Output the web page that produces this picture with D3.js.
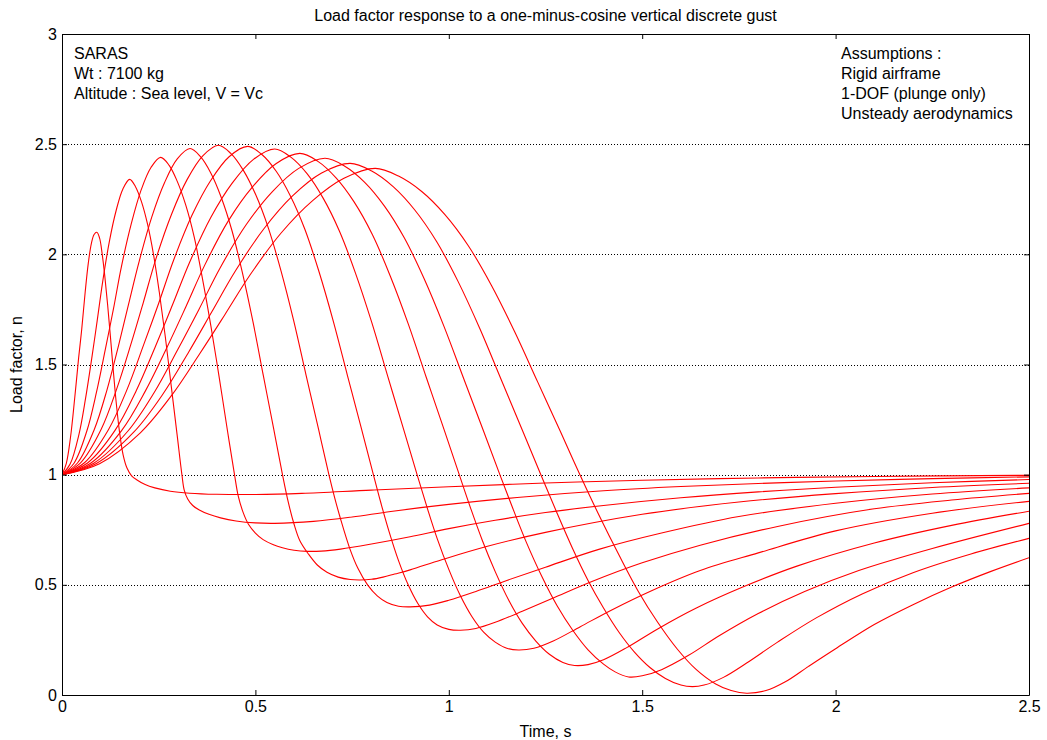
<!DOCTYPE html>
<html>
<head>
<meta charset="utf-8">
<script src="https://cdn.jsdelivr.net/npm/d3@7"></script>
<style>
  body { margin: 0; background: #fff; }
  svg text { font-family: "Liberation Sans", Arial, Helvetica, sans-serif; fill: #000; }
</style>
</head>
<body>
<svg id="chart" width="1047" height="740"></svg>
<script>
// Axis ticks and dotted grid levels
const xTicks = [0, 0.5, 1, 1.5, 2, 2.5];
const yTicks = [0, 0.5, 1, 1.5, 2, 2.5, 3];
const gridLevels = [0.5, 1, 1.5, 2, 2.5];

// Annotation blocks
const caseNotes = ["SARAS", "Wt : 7100 kg", "Altitude : Sea level, V = Vc"];
const assumptionNotes = ["Assumptions :", "Rigid airframe", "1-DOF (plunge only)", "Unsteady aerodynamics"];

// Load factor n versus time t [s], one series per gust length (shortest first)
const response1 = [[0,1],[0.011,1.05],[0.022,1.17],[0.033,1.35],[0.043,1.53],[0.051,1.66],[0.06,1.83],[0.068,1.96],[0.076,2.05],[0.083,2.09],[0.09,2.1],[0.097,2.075],[0.104,2.0],[0.111,1.895],[0.118,1.77],[0.125,1.63],[0.132,1.485],[0.14,1.33],[0.149,1.19],[0.158,1.09],[0.168,1.03],[0.18,0.995],[0.195,0.975],[0.215,0.955],[0.24,0.94],[0.28,0.925],[0.33,0.916],[0.4,0.911],[0.5,0.91],[0.62,0.915],[0.8,0.93],[1.0,0.945],[1.25,0.962],[1.5,0.975],[1.8,0.985],[2.1,0.992],[2.5,0.997]];
const response2 = [[0,1],[0.021,1.048],[0.044,1.184],[0.061,1.347],[0.077,1.529],[0.091,1.699],[0.105,1.874],[0.1225,2.059],[0.14,2.199],[0.1575,2.297],[0.175,2.34],[0.19,2.307],[0.2056,2.238],[0.221,2.138],[0.2363,2.002],[0.2515,1.829],[0.267,1.627],[0.2822,1.405],[0.2974,1.184],[0.31,1.0],[0.316,0.93],[0.325,0.89],[0.338,0.86],[0.355,0.84],[0.38,0.82],[0.41,0.804],[0.45,0.79],[0.5,0.781],[0.55,0.779],[0.65,0.788],[0.75,0.808],[0.85,0.833],[1.0,0.865],[1.2,0.9],[1.4,0.927],[1.6,0.946],[1.8,0.96],[2.0,0.971],[2.25,0.982],[2.5,0.99]];
const response3 = [[0,1],[0.031,1.052],[0.064,1.197],[0.089,1.373],[0.112,1.569],[0.133,1.752],[0.153,1.939],[0.179,2.138],[0.204,2.289],[0.23,2.394],[0.255,2.44],[0.277,2.404],[0.298,2.331],[0.32,2.223],[0.342,2.077],[0.363,1.891],[0.385,1.674],[0.407,1.435],[0.428,1.197],[0.446,1.0],[0.456,0.9],[0.468,0.83],[0.482,0.775],[0.5,0.735],[0.52,0.705],[0.545,0.683],[0.57,0.668],[0.6,0.657],[0.635,0.652],[0.67,0.653],[0.72,0.662],[0.8,0.685],[0.9,0.718],[1.0,0.755],[1.12,0.793],[1.25,0.828],[1.4,0.86],[1.6,0.895],[1.8,0.922],[2.0,0.943],[2.25,0.963],[2.5,0.978]];
const response4 = [[0,1],[0.04,1.053],[0.083,1.203],[0.116,1.383],[0.146,1.585],[0.172,1.773],[0.199,1.965],[0.232,2.169],[0.265,2.325],[0.298,2.433],[0.331,2.48],[0.358,2.443],[0.385,2.368],[0.412,2.257],[0.4395,2.107],[0.4665,1.916],[0.4938,1.693],[0.5208,1.447],[0.5478,1.203],[0.57,1.0],[0.585,0.875],[0.6,0.775],[0.615,0.7],[0.637,0.64],[0.66,0.59],[0.685,0.557],[0.714,0.535],[0.745,0.524],[0.77,0.522],[0.8,0.525],[0.83,0.535],[0.86,0.549],[0.9,0.568],[0.98,0.613],[1.1,0.675],[1.25,0.738],[1.5,0.82],[1.75,0.876],[2.0,0.914],[2.25,0.942],[2.5,0.961]];
const response5 = [[0,1],[0.048,1.054],[0.101,1.205],[0.141,1.387],[0.178,1.591],[0.21,1.78],[0.242,1.975],[0.283,2.181],[0.323,2.338],[0.364,2.447],[0.404,2.495],[0.4363,2.458],[0.4689,2.381],[0.5012,2.269],[0.5338,2.118],[0.5662,1.925],[0.5988,1.7],[0.6311,1.451],[0.6634,1.205],[0.69,1.0],[0.705,0.895],[0.72,0.8],[0.745,0.66],[0.765,0.575],[0.79,0.5],[0.815,0.45],[0.84,0.42],[0.87,0.403],[0.9,0.4],[0.95,0.408],[1.0,0.43],[1.07,0.47],[1.15,0.52],[1.25,0.58],[1.39,0.662],[1.55,0.735],[1.75,0.81],[2.0,0.87],[2.25,0.912],[2.5,0.94]];
const response6 = [[0,1],[0.058,1.054],[0.12,1.204],[0.168,1.386],[0.211,1.589],[0.25,1.778],[0.288,1.971],[0.336,2.177],[0.384,2.334],[0.432,2.443],[0.48,2.49],[0.5167,2.453],[0.5538,2.377],[0.5905,2.265],[0.6276,2.115],[0.6643,1.922],[0.7013,1.697],[0.738,1.45],[0.7748,1.204],[0.805,1.0],[0.825,0.868],[0.845,0.745],[0.87,0.61],[0.895,0.5],[0.92,0.415],[0.945,0.355],[0.97,0.318],[1.0,0.298],[1.03,0.294],[1.07,0.302],[1.12,0.33],[1.19,0.38],[1.27,0.44],[1.37,0.515],[1.5,0.6],[1.65,0.68],[1.85,0.765],[2.1,0.845],[2.3,0.885],[2.5,0.915]];
const response7 = [[0,1],[0.066,1.053],[0.1375,1.202],[0.1925,1.383],[0.242,1.584],[0.286,1.772],[0.33,1.964],[0.385,2.168],[0.44,2.323],[0.495,2.431],[0.55,2.478],[0.5916,2.441],[0.6335,2.366],[0.6751,2.255],[0.7171,2.106],[0.7587,1.915],[0.8006,1.692],[0.8422,1.446],[0.8838,1.202],[0.918,1.0],[0.945,0.845],[0.97,0.71],[1.0,0.57],[1.03,0.45],[1.06,0.355],[1.09,0.285],[1.12,0.24],[1.15,0.212],[1.18,0.204],[1.22,0.212],[1.27,0.245],[1.34,0.31],[1.42,0.385],[1.52,0.47],[1.65,0.565],[1.8,0.645],[2.0,0.745],[2.25,0.825],[2.5,0.879]];
const response8 = [[0,1],[0.074,1.052],[0.154,1.2],[0.215,1.378],[0.271,1.576],[0.32,1.761],[0.369,1.951],[0.43,2.152],[0.492,2.305],[0.553,2.411],[0.615,2.458],[0.6616,2.422],[0.7085,2.347],[0.7551,2.238],[0.802,2.091],[0.8486,1.902],[0.8956,1.682],[0.9421,1.44],[0.9887,1.2],[1.027,1.0],[1.057,0.845],[1.087,0.7],[1.12,0.56],[1.155,0.43],[1.19,0.325],[1.225,0.245],[1.26,0.185],[1.295,0.148],[1.325,0.134],[1.36,0.138],[1.4,0.16],[1.46,0.215],[1.54,0.3],[1.64,0.395],[1.76,0.49],[1.9,0.585],[2.1,0.69],[2.3,0.77],[2.5,0.834]];
const response9 = [[0,1],[0.082,1.052],[0.17,1.197],[0.238,1.372],[0.299,1.567],[0.354,1.75],[0.408,1.936],[0.476,2.134],[0.544,2.285],[0.612,2.39],[0.68,2.436],[0.7311,2.4],[0.7826,2.327],[0.8337,2.219],[0.8852,2.074],[0.9363,1.889],[0.9878,1.672],[1.0389,1.434],[1.09,1.197],[1.132,1.0],[1.167,0.84],[1.2,0.695],[1.24,0.54],[1.28,0.405],[1.32,0.295],[1.36,0.205],[1.4,0.14],[1.43,0.105],[1.465,0.082],[1.5,0.087],[1.55,0.115],[1.62,0.18],[1.7,0.27],[1.8,0.37],[1.92,0.47],[2.06,0.565],[2.25,0.665],[2.5,0.779]];
const response10 = [[0,1],[0.089,1.051],[0.186,1.194],[0.261,1.366],[0.328,1.558],[0.387,1.738],[0.447,1.921],[0.522,2.116],[0.596,2.265],[0.67,2.368],[0.745,2.413],[0.8007,2.378],[0.8569,2.306],[0.9126,2.2],[0.9688,2.057],[1.0245,1.875],[1.0807,1.661],[1.1364,1.427],[1.1921,1.194],[1.238,1.0],[1.28,0.825],[1.32,0.665],[1.36,0.52],[1.4,0.395],[1.44,0.285],[1.48,0.195],[1.52,0.125],[1.56,0.075],[1.6,0.045],[1.63,0.038],[1.66,0.045],[1.71,0.08],[1.77,0.145],[1.85,0.24],[1.95,0.35],[2.07,0.46],[2.2,0.555],[2.35,0.64],[2.5,0.711]];
const response11 = [[0,1],[0.097,1.05],[0.2025,1.19],[0.2835,1.36],[0.356,1.549],[0.421,1.726],[0.486,1.906],[0.567,2.098],[0.648,2.244],[0.729,2.345],[0.81,2.39],[0.87,2.355],[0.93,2.285],[0.99,2.18],[1.05,2.04],[1.11,1.86],[1.17,1.65],[1.23,1.42],[1.29,1.19],[1.339,1.0],[1.39,0.81],[1.44,0.635],[1.49,0.47],[1.54,0.33],[1.59,0.21],[1.64,0.115],[1.69,0.05],[1.73,0.02],[1.77,0.008],[1.82,0.02],[1.87,0.06],[1.93,0.13],[2.0,0.21],[2.1,0.32],[2.2,0.41],[2.3,0.49],[2.4,0.56],[2.5,0.623]];

const responses = [response1, response2, response3, response4, response5, response6,
                   response7, response8, response9, response10, response11];

const svg = d3.select("#chart");
const plot = { left: 62, right: 1029, top: 34, bottom: 695 };

const x = d3.scaleLinear().domain([0, 2.5]).range([plot.left, plot.right]);
const y = d3.scaleLinear().domain([0, 3]).range([plot.bottom, plot.top]);

// Dotted horizontal grid
svg.append("g")
  .selectAll("line")
  .data(gridLevels)
  .join("line")
  .attr("x1", plot.left).attr("x2", plot.right)
  .attr("y1", d => Math.round(y(d)) + 0.5).attr("y2", d => Math.round(y(d)) + 0.5)
  .attr("stroke", "#000")
  .attr("stroke-width", 1)
  .attr("stroke-dasharray", "1,2");

// Response curves
const line = d3.line()
  .x(d => x(d[0]))
  .y(d => y(d[1]))
  .curve(d3.curveCatmullRom.alpha(0.5));

svg.append("clipPath").attr("id", "plot-clip")
  .append("rect")
  .attr("x", plot.left).attr("y", plot.top)
  .attr("width", plot.right - plot.left).attr("height", plot.bottom - plot.top);

svg.append("g")
  .attr("clip-path", "url(#plot-clip)")
  .selectAll("path")
  .data(responses)
  .join("path")
  .attr("d", line)
  .attr("fill", "none")
  .attr("stroke", "#ff0000")
  .attr("stroke-width", 1.1);

// Box axes with inward ticks
const fontSize = 16;
function styleAxis(g) {
  g.selectAll("path.domain").attr("stroke", "#000").attr("stroke-width", 1);
  g.selectAll(".tick line").attr("stroke", "#000");
  g.selectAll("text")
    .style("font-family", "'Liberation Sans', Arial, sans-serif")
    .style("font-size", fontSize + "px")
    .attr("fill", "#000");
}

svg.append("g")
  .attr("transform", `translate(0,${plot.bottom})`)
  .call(d3.axisBottom(x).tickValues(xTicks).tickSizeInner(-5).tickSizeOuter(0).tickPadding(6)
    .tickFormat(d3.format("")))
  .call(styleAxis);

svg.append("g")
  .attr("transform", `translate(0,${plot.top})`)
  .call(d3.axisTop(x).tickValues(xTicks).tickSizeInner(-5).tickSizeOuter(0).tickFormat(""))
  .call(styleAxis);

svg.append("g")
  .attr("transform", `translate(${plot.left},0)`)
  .call(d3.axisLeft(y).tickValues(yTicks).tickSizeInner(-5).tickSizeOuter(0).tickPadding(5)
    .tickFormat(d3.format("")))
  .call(styleAxis);

svg.append("g")
  .attr("transform", `translate(${plot.right},0)`)
  .call(d3.axisRight(y).tickValues(yTicks).tickSizeInner(-5).tickSizeOuter(0).tickFormat(""))
  .call(styleAxis);

// Titles
svg.append("text")
  .attr("x", (plot.left + plot.right) / 2)
  .attr("y", 21)
  .attr("text-anchor", "middle")
  .style("font-size", fontSize + "px")
  .text("Load factor response to a one-minus-cosine vertical discrete gust");

svg.append("text")
  .attr("x", (plot.left + plot.right) / 2)
  .attr("y", 737)
  .attr("text-anchor", "middle")
  .style("font-size", fontSize + "px")
  .text("Time, s");

svg.append("text")
  .attr("transform", `translate(22,${(plot.top + plot.bottom) / 2}) rotate(-90)`)
  .attr("text-anchor", "middle")
  .style("font-size", fontSize + "px")
  .text("Load factor, n");

// Annotations inside the axes
svg.append("g")
  .selectAll("text")
  .data(caseNotes)
  .join("text")
  .attr("x", 74)
  .attr("y", (d, i) => 59 + i * 20)
  .style("font-size", fontSize + "px")
  .text(d => d);

svg.append("g")
  .selectAll("text")
  .data(assumptionNotes)
  .join("text")
  .attr("x", 841)
  .attr("y", (d, i) => 59 + i * 20)
  .style("font-size", fontSize + "px")
  .text(d => d);
</script>
</body>
</html>
